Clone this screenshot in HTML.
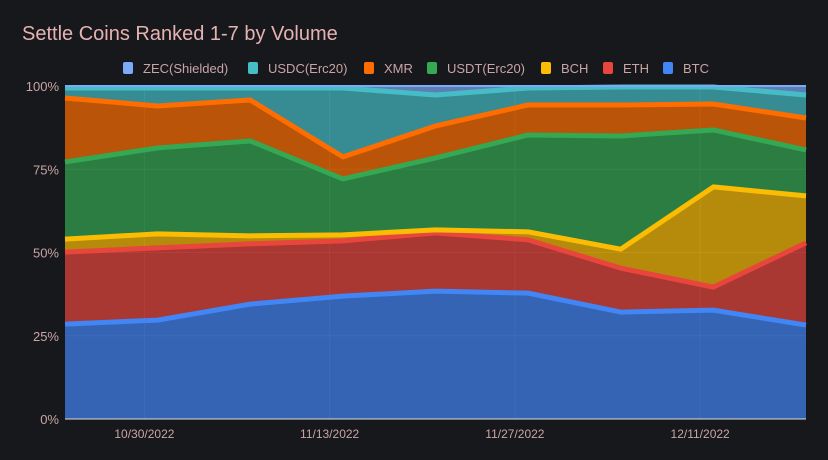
<!DOCTYPE html>
<html><head><meta charset="utf-8"><style>
html,body{margin:0;padding:0;background:#17181c;}
svg{display:block;font-family:"Liberation Sans",sans-serif;}
</style></head><body>
<svg id="chart" width="828" height="460">
<rect width="828" height="460" fill="#17181c"/>
<text x="22" y="40" font-size="20" fill="#e6b3b3">Settle Coins Ranked 1-7 by Volume</text>
<g id="grid"></g><g id="areas"></g><g id="legend"></g><g id="axes"></g>
</svg>
<script>
const dates=["10/24","10/31","11/7","11/14","11/21","11/28","12/5","12/12","12/19"];
const seriesNames=["BTC","ETH","BCH","USDT(Erc20)","XMR","USDC(Erc20)","ZEC(Shielded)"];
const btc=[28.5,29.7,34.5,36.9,38.4,37.8,32.1,32.7,28.2];
const eth=[21.6,21.7,18.1,16.6,17.5,16.0,13.2,6.9,24.7];
const bch=[3.9,4.2,2.4,1.8,0.9,2.4,5.7,30.1,14.1];
const usdt=[23.2,25.8,28.5,16.8,21.6,29.1,34.0,17.1,13.8];
const xmr=[19.2,12.6,12.3,6.6,9.6,9.0,9.3,7.8,9.6];
const usdc=[3.0,5.4,3.6,20.7,9.3,5.1,5.4,5.1,6.9];
const zec=[0.6,0.6,0.6,0.6,2.7,0.6,0.3,0.3,2.7];
const yTicks=[0,25,50,75,100];
const xTickLabels=["10/30/2022","11/13/2022","11/27/2022","12/11/2022"];
const xTickDays=[6,20,34,48];
const colors=["#4285f4","#e8453c","#fbbc04","#34a853","#ff6d00","#46bdc6","#7baaf7"];
const X0=65,X1=806,Y0=419,Y1=86;
const NS="http://www.w3.org/2000/svg";
const xs=i=>X0+(X1-X0)*i/(dates.length-1);
const xd=d=>X0+(X1-X0)*d/((dates.length-1)*7);
const ys=v=>Y0-(Y0-Y1)*v/100;
function mk(t,a,p){const e=document.createElementNS(NS,t);for(const k in a)e.setAttribute(k,a[k]);p.appendChild(e);return e;}
const grid=document.getElementById('grid'),areas=document.getElementById('areas'),axes=document.getElementById('axes'),legend=document.getElementById('legend');
yTicks.forEach(t=>{
 const l=mk('line',{x1:X0,x2:X1,y1:ys(t),y2:ys(t),stroke:'#33353b','stroke-width':1},grid);
 
 
 const tx=mk('text',{x:X0-6,y:ys(t)+5,'text-anchor':'end','font-size':13,fill:'#c9a5a5'},axes);
 tx.textContent=t+'%';
 
 
});
xTickDays.forEach((d,i)=>{
 const l=mk('line',{x1:xd(d),x2:xd(d),y1:Y1,y2:Y0,stroke:'#33353b','stroke-width':1},grid);
 
 
 const tx=mk('text',{x:xd(d),y:438,'text-anchor':'middle','font-size':12,fill:'#c9a5a5'},axes);
 tx.textContent=xTickLabels[i];
 
 
});
const all=[btc,eth,bch,usdt,xmr,usdc,zec];
let base=dates.map(()=>0);
const tops=[];
all.forEach((s,k)=>{
 const top=base.map((b,i)=>b+s[i]);
 let d='M'+top.map((v,i)=>xs(i)+','+ys(v)).join(' L');
 for(let i=dates.length-1;i>=0;i--)d+=' L'+xs(i)+','+ys(base[i]);
 const a=mk('path',{d:d+'Z',fill:colors[k],'fill-opacity':0.7},areas);
 
 
 tops.push(top);base=top;
});
tops.forEach((top,k)=>{
 const ln=mk('path',{d:'M'+top.map((v,i)=>xs(i)+','+ys(v)).join(' L'),fill:'none',stroke:colors[k],'stroke-width':k==6?2:5,'stroke-linejoin':'round'},areas);
 
 
});
const ax=mk('line',{x1:X0,x2:X1,y1:Y0,y2:Y0,stroke:'#e0e0e0','stroke-width':1},axes);


// legend, reversed order
const legX=[123,248,364,427,541,603,663];
const order=[6,5,4,3,2,1,0];
order.forEach((k,j)=>{
 const g=mk('g',{},legend);
 
 
 mk('rect',{x:legX[j],y:62,width:10,height:12,rx:2,fill:colors[k]},g);
 const t=mk('text',{x:legX[j]+20,y:73,'font-size':13,fill:'#c9a5a5'},g);
 t.textContent=seriesNames[k];
});
</script>
</body></html>
